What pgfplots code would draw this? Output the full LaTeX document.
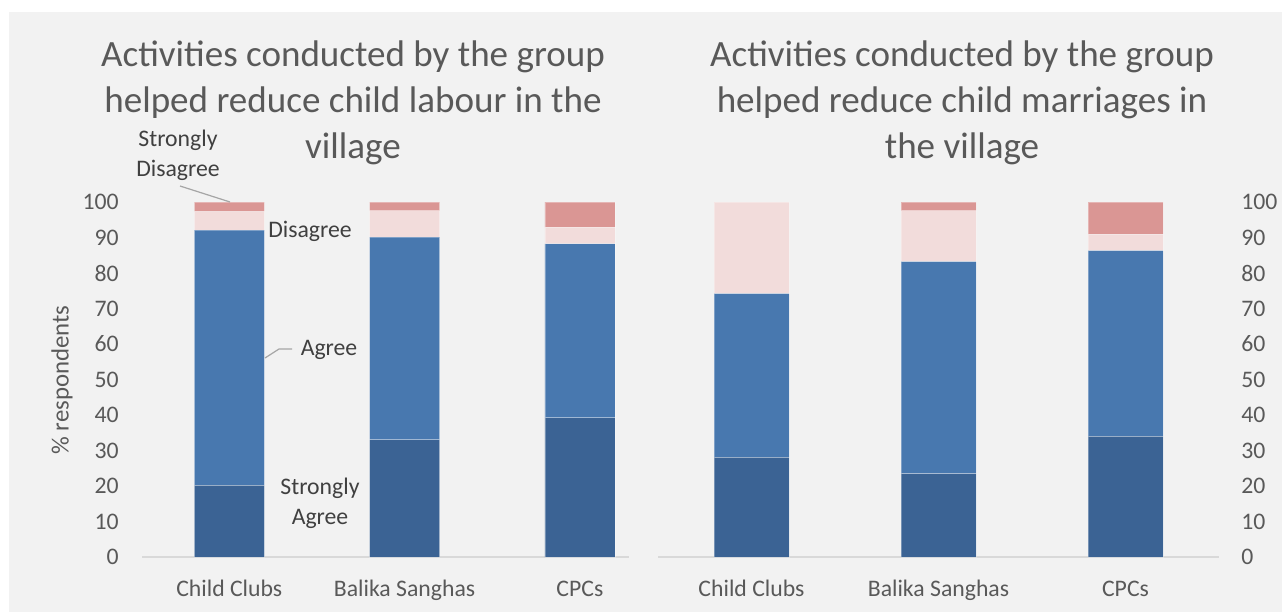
\documentclass[border=0pt]{standalone}
\usepackage{fontspec}
\setmainfont{Carlito}
\usepackage{pgfplots}
\pgfplotsset{compat=1.18}
\definecolor{bg}{HTML}{F2F2F2}
\definecolor{axgray}{HTML}{D9D9D9}
\definecolor{txtgray}{HTML}{595959}
\definecolor{lblgray}{HTML}{404040}
\definecolor{leadgray}{HTML}{A6A6A6}
\definecolor{csa}{HTML}{3B6394}
\definecolor{ca}{HTML}{4878AF}
\definecolor{cd}{HTML}{F2DCDB}
\definecolor{csd}{HTML}{DA9694}
\pgfplotsset{
  panel/.style={
    scale only axis, ybar stacked, bar width=#1,
    height=266.25pt, ymin=0, ymax=100, ytick={0,10,...,100},
    xtick={0,1,2}, xticklabels={Child Clubs,Balika Sanghas,CPCs},
    axis x line*=bottom,
    x axis line style={draw=axgray, line width=1.4pt},
    y axis line style={draw=none},
    major tick length=0pt, tick style={draw=none},
    /pgf/number format/assume math mode=true,
    ticklabel style={font=\fontsize{17.8}{21}\selectfont, text=txtgray},
    xticklabel style={anchor=base, inner sep=0pt, yshift=-29.25pt},
    clip=false,
  },
  sa/.style={fill=csa, draw=white, draw opacity=0.3, line width=0.6pt},
  ag/.style={fill=ca, draw=white, draw opacity=0.3, line width=0.6pt},
  di/.style={fill=cd, draw=white, draw opacity=0.3, line width=0.6pt},
  sd/.style={fill=csd, draw=white, draw opacity=0.3, line width=0.6pt},
}
\begin{document}
\begin{tikzpicture}[x=0.75pt,y=0.75pt]
\fill[white] (0,0) rectangle (1282,612);
\fill[bg] (9,0) rectangle (1282,600);
\useasboundingbox (0,0) rectangle (1282,612);

% Left panel
\begin{axis}[panel=52.5pt, at={(106.5pt,41.25pt)}, anchor=south west,
  width=365.25pt, xmin=-0.498, xmax=2.28,
  axis y line*=left,
  yticklabel style={anchor=east, inner sep=0pt, xshift=-17.25pt}]
\addplot[sa] coordinates {(0,20.2) (1,33.0) (2,39.2)};
\addplot[ag] coordinates {(0,71.9) (1,57.1) (2,49.0)};
\addplot[di] coordinates {(0,5.2) (1,7.4) (2,4.7)};
\addplot[sd] coordinates {(0,2.7) (1,2.5) (2,7.1)};
\end{axis}

% Right panel
\begin{axis}[panel=56.25pt, at={(493.5pt,41.25pt)}, anchor=south west,
  width=420.75pt, xmin=-0.5, xmax=2.5,
  axis y line*=right,
  yticklabel style={anchor=west, inner sep=0pt, xshift=16.5pt}]
\addplot[sa] coordinates {(0,28.1) (1,23.5) (2,34.0)};
\addplot[ag] coordinates {(0,46.1) (1,59.7) (2,52.3)};
\addplot[di] coordinates {(0,25.8) (1,14.3) (2,4.6)};
\addplot[sd] coordinates {(0,0) (1,2.5) (2,9.1)};
\end{axis}

% Titles
\node[align=center, text=txtgray, font=\fontsize{27.8}{34.5}\selectfont] at (353,509)
  {Activities conducted by the group\\helped reduce child labour in the\\village};
\node[align=center, text=txtgray, font=\fontsize{27.8}{34.5}\selectfont] at (962,509)
  {Activities conducted by the group\\helped reduce child marriages in\\the village};

% Y axis title
\node[rotate=90, text=txtgray, font=\fontsize{18.6}{22}\selectfont] at (62,232) {\% respondents};

% Data labels
\node[align=center, text=lblgray, font=\fontsize{17.8}{22.5}\selectfont] at (178,457) {Strongly\\Disagree};
\draw[leadgray, line width=0.9pt] (180,426) -- (230,410);
\node[text=lblgray, font=\fontsize{17.8}{22.5}\selectfont] at (310,381) {Disagree};
\draw[leadgray, line width=0.9pt] (265,254) -- (279,263) -- (292,263);
\node[text=lblgray, font=\fontsize{17.8}{22.5}\selectfont] at (329,262) {Agree};
\node[align=center, text=lblgray, font=\fontsize{17.8}{22.5}\selectfont] at (320,109) {Strongly\\Agree};
\end{tikzpicture}
\end{document}
